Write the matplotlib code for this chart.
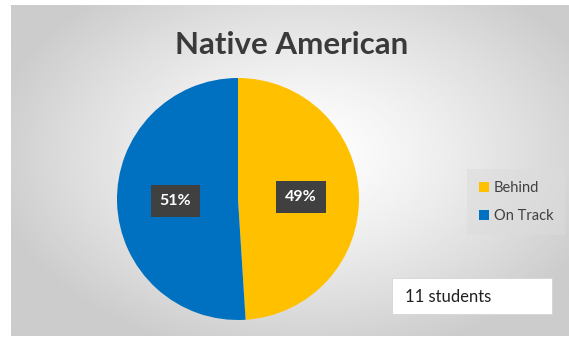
import numpy as np
import matplotlib.pyplot as plt
from matplotlib.patches import Patch, Rectangle

title = 'Native American'
categories = ['Behind', 'On Track']
values = [49, 51]
colors = ['#FFC000', '#0070C0']
note = '11 students'

W, H = 569, 339
fig = plt.figure(figsize=(W / 100, H / 100), dpi=100)
fig.patch.set_facecolor('white')

def box(x0, y0, x1, y1):
    # pixel box (from top-left) -> figure fraction rect
    return [x0 / W, 1 - y1 / H, (x1 - x0) / W, (y1 - y0) / H]

# gradient chart background
bg = fig.add_axes(box(11, 5, 569, 336))
bg.set_axis_off()
xx, yy = np.meshgrid(np.linspace(-1, 1, 400), np.linspace(-1, 1, 240))
r = np.sqrt(((xx - 0.05) / 1.0) ** 2 + ((yy + 0.1) / 1.1) ** 2)
shade = np.clip(1 - 0.17 * r ** 1.3, 0.8, 1)
bg.imshow(shade, cmap='gray', vmin=0, vmax=1, aspect='auto',
          extent=[0, 1, 0, 1], interpolation='bilinear')
bg.set_xlim(0, 1)
bg.set_ylim(0, 1)

# pie
cx, cy, rad = 238, 199, 121
ax = fig.add_axes(box(cx - rad, cy - rad, cx + rad, cy + rad))
wedges, texts, autotexts = ax.pie(
    values, colors=colors, startangle=90, counterclock=False,
    autopct='%1.0f%%', pctdistance=0.52, radius=1,
    wedgeprops=dict(linewidth=0),
    textprops=dict(color='white', fontsize=11.5, fontweight='bold', family='Lato'))
for t in autotexts:
    t.set_bbox(dict(boxstyle='square,pad=0.55', facecolor='#404040', edgecolor='none'))
ax.set_xlim(-1, 1)
ax.set_ylim(-1, 1)
ax.set_aspect('equal')

fig.text(292 / W, 1 - 45 / H, title, ha='center', va='center',
         fontsize=22.5, fontweight='bold', color='#3a3a3a', family='Lato')

# legend
handles = [Patch(facecolor=c, edgecolor='none') for c in colors]
leg = fig.legend(handles, categories, loc='center', bbox_to_anchor=(516 / W, 1 - 202 / H),
                 frameon=True, facecolor='#dcdcdc', edgecolor='none', framealpha=0.5,
                 handlelength=0.7, handleheight=0.7, handletextpad=0.3,
                 labelspacing=1.0, borderpad=0.8, fancybox=False,
                 prop=dict(family='Lato', size=10.5))
for t in leg.get_texts():
    t.set_color('#404040')

# note box
fig.patches.append(Rectangle((392 / W, 1 - 314 / H), 160 / W, 36 / H,
                             transform=fig.transFigure, facecolor='white',
                             edgecolor='#d0d0d0', linewidth=0.5))
fig.text(405 / W, 1 - 297 / H, note, ha='left', va='center', fontsize=12,
         color='#202020', family='Lato')

fig.savefig('out.png', dpi=100)
